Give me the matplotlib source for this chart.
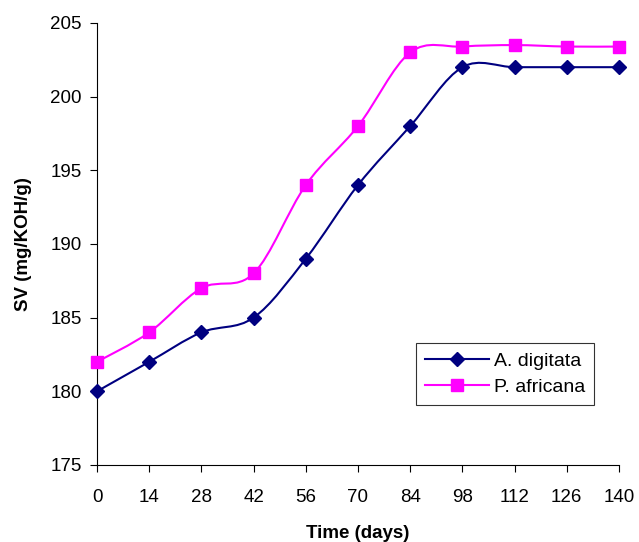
import matplotlib
matplotlib.use("Agg")
import matplotlib.pyplot as plt
import numpy as np
from matplotlib.path import Path
from matplotlib.patches import PathPatch
from matplotlib.lines import Line2D

plt.rcParams['font.family'] = ['Liberation Sans', 'DejaVu Sans']

days = [0, 14, 28, 42, 56, 70, 84, 98, 112, 126, 140]
a_digitata = [180, 182, 184, 185, 189, 194, 198, 202, 202, 202, 202]
p_africana = [182, 184, 187, 188, 194, 198, 203, 203.4, 203.5, 203.4, 203.4]


def smooth_path(x, y):
    """Excel-style smoothed line as cubic Bezier segments."""
    pts = np.column_stack([x, y]).astype(float)
    n = len(pts)
    verts = [pts[0]]
    codes = [Path.MOVETO]
    for i in range(n - 1):
        p0 = pts[i - 1] if i > 0 else pts[i]
        p1 = pts[i]
        p2 = pts[i + 1]
        p3 = pts[i + 2] if i + 2 < n else pts[i + 1]
        c1 = p1 + (p2 - p0) / 6
        c2 = p2 - (p3 - p1) / 6
        verts += [c1, c2, p2]
        codes += [Path.CURVE4] * 3
    return Path(verts, codes)


fig = plt.figure(figsize=(6.39, 5.42), dpi=100)
ax = fig.add_axes([0.1518, 0.1421, 0.8169, 0.8155])

series = [
    (a_digitata, '#000080', 'D', 7, 'A. digitata'),
    (p_africana, '#FF00FF', 's', 8, 'P. africana'),
]
handles = []
for vals, color, marker, ms, label in series:
    ax.add_patch(PathPatch(smooth_path(days, vals), facecolor='none',
                           edgecolor=color, linewidth=1.5, zorder=2))
    ax.plot(days, vals, linestyle='none', marker=marker, markersize=ms,
            color=color, zorder=3, clip_on=False)
    handles.append(Line2D([], [], color=color, linewidth=1.5, marker=marker,
                          markersize=ms, label=label))

ax.set_xlim(0, 140)
ax.set_ylim(175, 205)
ax.set_xticks(days)
ax.set_yticks(np.arange(175, 206, 5))
ax.spines['top'].set_visible(False)
ax.spines['right'].set_visible(False)
ax.tick_params(direction='out', length=5, labelsize=13.5, color='black')
ax.tick_params(axis='x', pad=12)
ax.tick_params(axis='y', pad=6)
ax.set_xlabel('Time (days)', fontsize=13.5, fontweight='bold', labelpad=14)
ax.set_ylabel('SV (mg/KOH/g)', fontsize=13.5, fontweight='bold', labelpad=13)

leg = ax.legend(handles=handles, loc='lower right', bbox_to_anchor=(0.952, 0.136),
                fontsize=14, frameon=True, fancybox=False, handlelength=3.3,
                borderpad=0.45, labelspacing=0.45, handletextpad=0.25,
                borderaxespad=0)
leg.get_frame().set_edgecolor('black')
leg.get_frame().set_linewidth(0.8)

plt.savefig('out.png', dpi=100)
